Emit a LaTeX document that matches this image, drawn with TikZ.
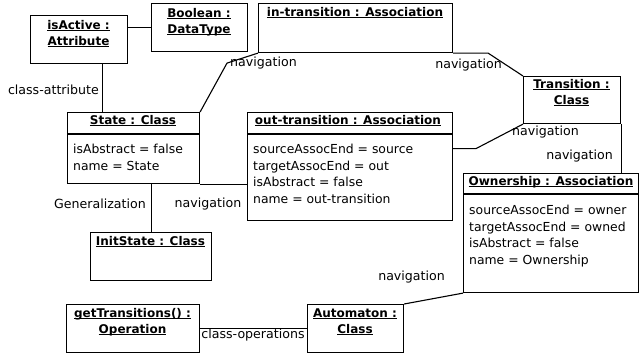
\documentclass[tikz,border=0pt]{standalone}
\usepackage{fontspec}
\setmainfont{DejaVu Sans}
\usetikzlibrary{calc}
\newcommand{\hd}[1]{\leavevmode\setbox0=\hbox{#1}\rlap{\copy0}\rule[-2.2pt]{\wd0}{0.8pt}}
\begin{document}
\begin{tikzpicture}[x=1pt,y=-1pt,
  box/.style={draw, line width=1.1pt, inner sep=0pt, anchor=north west},
  hdr/.style={font=\bfseries\fontsize{12}{16}\selectfont, inner sep=0pt, anchor=base},
  attr/.style={font=\fontsize{12.4}{16.6}\selectfont, inner sep=0pt, anchor=base west},
  lbl/.style={font=\fontsize{12.6}{15}\selectfont, inner sep=0pt},
  conn/.style={line width=1.1pt}]
\useasboundingbox[fill=white] (0,0) rectangle (639,360);

% boxes
\node[box, minimum width=97pt,  minimum height=48pt]  (ia) at (30,15) {};
\node[box, minimum width=96pt,  minimum height=48pt]  (bo) at (151,3) {};
\node[box, minimum width=194pt, minimum height=49pt]  (it) at (258,3) {};
\node[box, minimum width=97pt,  minimum height=47pt]  (tr) at (523,76) {};
\node[box, minimum width=132pt, minimum height=71pt]  (st) at (67,112) {};
\node[box, minimum width=205pt, minimum height=108pt] (ot) at (247,112) {};
\node[box, minimum width=121pt, minimum height=48pt]  (is) at (90,232) {};
\node[box, minimum width=175pt, minimum height=119pt] (ow) at (463,173) {};
\node[box, minimum width=133pt, minimum height=48pt]  (gt) at (66,304) {};
\node[box, minimum width=96pt,  minimum height=48pt]  (au) at (307,304) {};

% dividers
\draw[conn] ([yshift=-22pt]st.north west) -- ([yshift=-22pt]st.north east);
\draw[conn] ([yshift=-22pt]ot.north west) -- ([yshift=-22pt]ot.north east);
\draw[conn] ([yshift=-21pt]ow.north west) -- ([yshift=-21pt]ow.north east);

% headers
\node[hdr] (ia-h1) at (78.5,29) {\hd{isActive :}};
\node[hdr] (ia-h2) at (78.5,45) {\hd{Attribute}};
\node[hdr] (bo-h1) at (199,17) {\hd{Boolean :}};
\node[hdr] (bo-h2) at (199,33) {\hd{DataType}};
\node[hdr] (it-h) at (355,16) {\hd{in-transition : Association}};
\node[hdr] (tr-h1) at (571.5,88) {\hd{Transition :}};
\node[hdr] (tr-h2) at (571.5,104) {\hd{Class}};
\node[hdr] (st-h) at (133,124) {\hd{State : Class}};
\node[hdr] (ot-h) at (348,124) {\hd{out-transition : Association}};
\node[hdr] (is-h) at (150.5,245) {\hd{InitState : Class}};
\node[hdr] (ow-h) at (551,185) {\hd{Ownership : Association}};
\node[hdr] (gt-h1) at (132.5,317) {\hd{getTransitions() :}};
\node[hdr] (gt-h2) at (132.5,333) {\hd{Operation}};
\node[hdr] (au-h1) at (355,317) {\hd{Automaton :}};
\node[hdr] (au-h2) at (355,333) {\hd{Class}};

% attributes
\node[attr] (st-a1) at (73,153.5) {isAbstract = false};
\node[attr] (st-a2) at (73,170) {name = State};
\node[attr] (ot-a1) at (253,153.5) {sourceAssocEnd = source};
\node[attr] (ot-a2) at (253,170) {targetAssocEnd = out};
\node[attr] (ot-a3) at (253,186.5) {isAbstract = false};
\node[attr] (ot-a4) at (253,203) {name = out-transition};
\node[attr] (ow-a1) at (469,214.5) {sourceAssocEnd = owner};
\node[attr] (ow-a2) at (469,231) {targetAssocEnd = owned};
\node[attr] (ow-a3) at (469,247.5) {isAbstract = false};
\node[attr] (ow-a4) at (469,264) {name = Ownership};

% connectors
\draw[conn] ([yshift=12pt]ia.east) -- ([yshift=12pt]ia.east -| bo.west);
\draw[conn] ([xshift=23.5pt]ia.south) -- ([xshift=23.5pt]ia.south |- st.north);
\draw[conn] (it.south west) -- ++(-31,10) -- (st.north east);
\draw[conn] (it.south east) -- ++(35,0) -- (tr.north west);
\draw[conn] (st.south east) -- (st.south east -| ot.west);
\draw[conn] (is.north |- st.south) -- (is.north);
\draw[conn] ([yshift=18pt]ot.east) -- ++(23,0) -- (tr.south west);
\draw[conn] (tr.south east) -- (tr.south east |- ow.north);
\draw[conn] (ow.south west) -- (au.north east);
\draw[conn] (gt.east) -- (au.west);

% labels
\node[lbl, anchor=east] (l-ca) at (99,90) {class-attribute};
\node[lbl, anchor=west] (l-n1) at (230,63) {navigation};
\node[lbl, anchor=east] (l-n2) at (502,65) {navigation};
\node[lbl, anchor=west] (l-n3) at (512,132) {navigation};
\node[lbl, anchor=east] (l-n4) at (613,156) {navigation};
\node[lbl] (l-n5) at (208,204) {navigation};
\node[lbl, anchor=east] (l-gen) at (146,204) {Generalization};
\node[lbl, anchor=east] (l-n6) at (445,277) {navigation};
\node[lbl] (l-co) at (253,335) {class-operations};
\end{tikzpicture}
\end{document}
